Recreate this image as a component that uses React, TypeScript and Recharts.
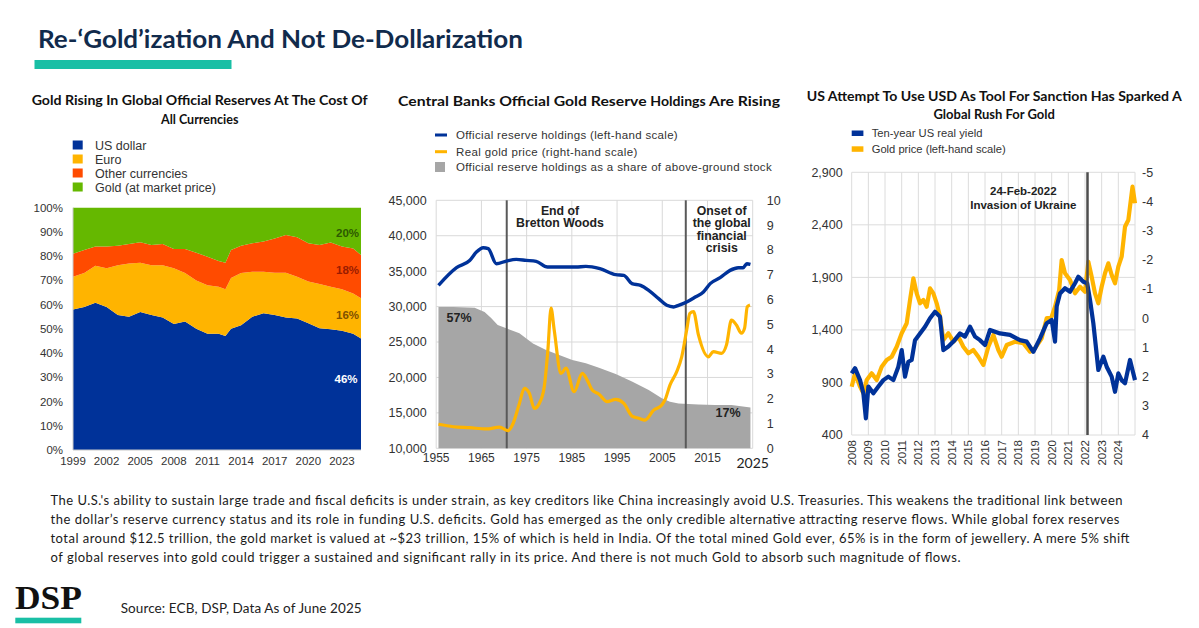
import React from "react";
import {
  AreaChart,
  Area,
  ComposedChart,
  Line,
  XAxis,
  YAxis,
  CartesianGrid,
  ReferenceLine,
} from "recharts";

// chart 1: currency shares of global official reserves (%)
const shareYears = [1999, 2000, 2001, 2002, 2003, 2004, 2005, 2006, 2007, 2008, 2009, 2010, 2011, 2012, 2012.6, 2013.1, 2014, 2015, 2016, 2017, 2018, 2019, 2020, 2021, 2022, 2023, 2024, 2024.7];
const usdShare = [58, 59, 60.8, 59, 55.7, 55, 57, 55.7, 54.7, 52, 53, 50, 48, 48, 47, 50, 51.5, 55, 56.4, 55.7, 54.7, 54.3, 52.3, 50.2, 49.8, 49.2, 48, 46];
const euroShare = [13.5, 14, 15.2, 16, 20.6, 22, 20.3, 20.6, 21.6, 23, 20, 20, 20, 19.4, 19.3, 21, 21.5, 18.6, 17.2, 17.5, 18.5, 17.2, 17.2, 18.3, 17.6, 17.1, 16.6, 16.6];
const otherShare = [9.5, 9.5, 8, 9, 8, 8, 8.4, 8.3, 8.7, 8, 10, 11.4, 11.8, 10.6, 11, 11.5, 11.3, 11.7, 12.4, 14.1, 15.5, 16.3, 15.8, 16.1, 18.2, 17.7, 18.6, 17.9];
const goldShare = [19, 17.5, 16, 16, 15.7, 15, 14.3, 15.4, 15, 17, 17, 18.6, 20.2, 22, 22.7, 17.5, 15.7, 14.7, 14, 12.7, 11.3, 12.2, 14.7, 15.4, 14.4, 16, 16.8, 19.5];
const shareTicks = [1999, 2002, 2005, 2008, 2011, 2014, 2017, 2020, 2023];
const pctTicks = [0, 10, 20, 30, 40, 50, 60, 70, 80, 90, 100];

// chart 2: central bank gold holdings (tonnes), real gold price, share of above-ground stock
const holdingYears = [1955.5, 1959.5, 1962.4, 1963.9, 1965.4, 1966.5, 1968.3, 1970.5, 1972.7, 1974.9, 1977.1, 1979.6, 1982.2, 1985.9, 1988.1, 1991.2, 1994.7, 1996.5, 1998.3, 2000.2, 2002, 2004.2, 2006, 2007.5, 2008.6, 2010.4, 2012.3, 2014.1, 2015.6, 2017.8, 2020, 2021.8, 2022.9, 2023.7, 2024.5];
const holdingTonnes = [33000, 35500, 36500, 37700, 38300, 38170, 36050, 36420, 36660, 36520, 36380, 35580, 35580, 35580, 35680, 35350, 34500, 34400, 33240, 33000, 32300, 31130, 30180, 29950, 30180, 30650, 31350, 32060, 33240, 34080, 35110, 35490, 35490, 36050, 35960];
const realGoldYears = [1955.5, 1958.8, 1962.4, 1966.1, 1969, 1970.9, 1972, 1973.4, 1974.5, 1975.6, 1976.7, 1977.8, 1978.9, 1979.7, 1980.4, 1981.1, 1982.6, 1983.7, 1985.5, 1987.3, 1988.4, 1989.5, 1991, 1992.8, 1994.7, 1996.5, 1998.3, 1999.8, 2001.2, 2003.1, 2004.9, 2005.6, 2006.7, 2008.2, 2009.3, 2010.4, 2011.1, 2011.9, 2013, 2015.2, 2016.3, 2018.1, 2019.2, 2020.3, 2021.4, 2022.5, 2023.2, 2023.8, 2024.4];
const realGoldPrice = [0.97, 0.87, 0.83, 0.78, 0.85, 0.71, 1.0, 1.81, 2.42, 2.22, 1.61, 1.81, 2.48, 3.96, 5.65, 4.77, 3.02, 3.23, 2.28, 3.02, 2.75, 2.35, 2.18, 1.88, 1.97, 1.81, 1.3, 1.21, 1.14, 1.54, 1.75, 1.95, 2.55, 3.09, 3.69, 4.77, 5.44, 5.51, 4.57, 3.69, 3.9, 3.83, 4.17, 5.17, 4.97, 4.64, 4.84, 5.71, 5.78];
const stockShareYears = [1955.5, 1958.8, 1963.5, 1965.7, 1967.2, 1968.6, 1970.5, 1973.4, 1976.4, 1979.3, 1982.2, 1985.1, 1988.1, 1991, 1994.7, 1998.3, 2002, 2004.9, 2006.7, 2008.6, 2013, 2016.7, 2020.3, 2024.5];
const stockSharePct = [57, 57, 56.7, 55, 52.4, 49.7, 48.4, 46.4, 42.3, 39.6, 37.6, 35.6, 34.3, 32.5, 30, 26.9, 23.5, 20.2, 18.8, 18.1, 17.7, 17.5, 17.5, 16.5];
const decadeTicks = [1955, 1965, 1975, 1985, 1995, 2005, 2015, 2025];
const tonnesTicks = [10000, 15000, 20000, 25000, 30000, 35000, 40000, 45000];
const realPriceTicks = [0, 1, 2, 3, 4, 5, 6, 7, 8, 9, 10];

// chart 3: gold price (USD/oz) and ten-year US real yield (%)
const goldSpotYears = [2008.0, 2008.2, 2008.5, 2008.7, 2008.9, 2009.2, 2009.5, 2009.8, 2010.1, 2010.4, 2010.7, 2011.0, 2011.3, 2011.5, 2011.7, 2011.9, 2012.1, 2012.3, 2012.5, 2012.7, 2012.9, 2013.1, 2013.3, 2013.5, 2013.8, 2014.1, 2014.4, 2014.7, 2015.0, 2015.3, 2015.6, 2015.9, 2016.2, 2016.5, 2016.8, 2017.0, 2017.3, 2017.8, 2018.3, 2018.7, 2019.0, 2019.4, 2019.7, 2020.0, 2020.2, 2020.45, 2020.6, 2020.8, 2021.1, 2021.4, 2021.7, 2022.0, 2022.2, 2022.4, 2022.6, 2022.8, 2023.0, 2023.2, 2023.4, 2023.6, 2023.8, 2024.0, 2024.2, 2024.4, 2024.6, 2024.75, 2024.85, 2025.0];
const goldSpotPrice = [860, 987, 860, 797, 923, 987, 923, 1050, 1114, 1145, 1240, 1368, 1463, 1685, 1891, 1748, 1653, 1685, 1621, 1796, 1748, 1653, 1526, 1304, 1368, 1288, 1335, 1240, 1177, 1209, 1145, 1066, 1240, 1352, 1209, 1145, 1256, 1288, 1273, 1193, 1225, 1320, 1511, 1526, 1621, 1780, 2065, 1939, 1875, 1748, 1811, 1764, 2049, 1906, 1748, 1653, 1811, 1939, 2034, 1923, 1844, 2002, 2097, 2382, 2446, 2636, 2763, 2605];
const realYieldYears = [2008.0, 2008.2, 2008.5, 2008.7, 2008.85, 2009.0, 2009.3, 2009.6, 2009.9, 2010.2, 2010.5, 2010.8, 2011.0, 2011.2, 2011.4, 2011.6, 2011.8, 2012.1, 2012.4, 2012.7, 2013.0, 2013.3, 2013.5, 2013.8, 2014.1, 2014.5, 2014.8, 2015.1, 2015.4, 2015.7, 2016.0, 2016.3, 2016.9, 2017.5, 2018.1, 2018.5, 2018.9, 2019.3, 2019.7, 2020.0, 2020.2, 2020.3, 2020.5, 2020.8, 2021.1, 2021.4, 2021.6, 2021.9, 2022.13, 2022.3, 2022.5, 2022.65, 2022.8, 2023.1, 2023.3, 2023.6, 2023.8, 2024.0, 2024.2, 2024.4, 2024.7, 2024.9, 2025.0];
const realYieldPct = [1.89, 1.71, 2.12, 2.57, 3.43, 2.34, 2.57, 2.34, 2.12, 2.0, 2.12, 1.66, 1.09, 2.0, 1.49, 1.43, 0.75, 0.52, 0.29, 0.0, -0.22, -0.05, 1.09, 0.97, 0.8, 0.52, 0.63, 0.29, 0.63, 0.75, 0.92, 0.4, 0.52, 0.57, 0.75, 0.8, 1.15, 0.69, 0.17, 0.06, 0.8, -0.4, -0.85, -1.03, -0.91, -1.2, -1.42, -1.25, -1.2, -0.63, 0.17, 0.97, 1.77, 1.32, 1.66, 2.0, 2.52, 1.89, 2.12, 2.23, 1.43, 1.89, 2.12];
const sanctionYearTicks = [2008, 2009, 2010, 2011, 2012, 2013, 2014, 2015, 2016, 2017, 2018, 2019, 2020, 2021, 2022, 2023, 2024];
const spotTicks = [400, 900, 1400, 1900, 2400, 2900];
const yieldTicks = [-5, -4, -3, -2, -1, 0, 1, 2, 3, 4];

const BLUE = "#003299";
const GOLD = "#ffb400";
const ORANGE = "#ff4b00";
const GREEN = "#65b800";
const GREY = "#a6a6a6";
const NAVY = "#112b4c";
const TEAL = "#19bfa5";
const ARIAL = "'Liberation Sans', Arial, sans-serif";
const CAL = "Lato, 'Open Sans', sans-serif";

const shareRows = shareYears.map((year, i) => ({
  year,
  usd: usdShare[i],
  euro: euroShare[i],
  other: otherShare[i],
  gold: goldShare[i],
}));
const holdingRows = holdingYears.map((year, i) => ({ year, tonnes: holdingTonnes[i] }));
const realGoldRows = realGoldYears.map((year, i) => ({ year, price: realGoldPrice[i] }));
const stockRows = stockShareYears.map((year, i) => ({ year, share: stockSharePct[i] }));
const spotRows = goldSpotYears.map((year, i) => ({ year, price: goldSpotPrice[i] }));
const yieldRows = realYieldYears.map((year, i) => ({ year, yld: realYieldPct[i] }));

const fmtThousands = (v: number) => v.toLocaleString("en-US");
const axisTick = (size: number) => ({ fontSize: size, fill: "#333", fontFamily: ARIAL });

const DecadeTick = (props: any) => {
  const { x, y, payload } = props;
  if (payload.value === 2025) {
    return (
      <text x={x} y={y + 15} textAnchor="middle" fontFamily={CAL} fontSize={14} fill="#222">
        {payload.value}
      </text>
    );
  }
  return (
    <text x={x} y={y} dy="0.71em" textAnchor="middle" fontFamily={ARIAL} fontSize={12} fill="#333">
      {payload.value}
    </text>
  );
};

const UprightYearTick = (props: any) => {
  const { x, y, payload } = props;
  return (
    <text
      x={x}
      y={y}
      dy="0.36em"
      transform={`rotate(-90 ${x} ${y})`}
      textAnchor="end"
      fontFamily={ARIAL}
      fontSize={11.5}
      fill="#333"
    >
      {payload.value}
    </text>
  );
};

const ReserveShareChart = () => (
  <div style={{ position: "absolute", left: 0, top: 200 }}>
    <AreaChart width={380} height={280} data={shareRows} margin={{ top: 7.7, right: 19, left: 0, bottom: 0 }}>
      <XAxis
        dataKey="year"
        type="number"
        domain={[1999, 2024.7]}
        ticks={shareTicks}
        interval={0}
        tickSize={0}
        tickMargin={6.5}
        tickLine={false}
        axisLine={{ stroke: "#c8c8c8" }}
        height={30}
        tick={axisTick(11.5)}
      />
      <YAxis
        type="number"
        domain={[0, 100]}
        ticks={pctTicks}
        interval={0}
        tickFormatter={(v) => `${v}%`}
        width={73}
        tickSize={0}
        tickMargin={10}
        tickLine={false}
        axisLine={{ stroke: "#c8c8c8" }}
        tick={axisTick(11.5)}
      />
      <Area dataKey="usd" stackId="s" type="linear" fill={BLUE} fillOpacity={1} stroke="none" isAnimationActive={false} />
      <Area dataKey="euro" stackId="s" type="linear" fill={GOLD} fillOpacity={1} stroke="none" isAnimationActive={false} />
      <Area dataKey="other" stackId="s" type="linear" fill={ORANGE} fillOpacity={1} stroke="none" isAnimationActive={false} />
      <Area dataKey="gold" stackId="s" type="linear" fill={GREEN} fillOpacity={1} stroke="none" isAnimationActive={false} />
    </AreaChart>
  </div>
);

const HoldingsChart = () => (
  <div style={{ position: "absolute", left: 380, top: 190 }}>
    <ComposedChart width={420} height={290} margin={{ top: 10.3, right: 17.3, left: 0, bottom: 1.7 }}>
      <CartesianGrid stroke="#d9d9d9" />
      <XAxis
        dataKey="year"
        type="number"
        domain={[1955, 2025]}
        ticks={decadeTicks}
        interval={0}
        tick={<DecadeTick />}
        tickSize={0}
        tickMargin={5}
        tickLine={false}
        axisLine={false}
        height={30}
      />
      <YAxis
        type="number"
        domain={[10000, 45000]}
        ticks={tonnesTicks}
        interval={0}
        tickFormatter={fmtThousands}
        width={56.2}
        tickSize={0}
        tickMargin={9.5}
        tickLine={false}
        axisLine={false}
        tick={axisTick(12.5)}
      />
      <YAxis
        yAxisId="price"
        orientation="right"
        type="number"
        domain={[0, 10]}
        ticks={realPriceTicks}
        interval={0}
        width={30}
        tickSize={0}
        tickMargin={14}
        tickLine={false}
        axisLine={false}
        tick={axisTick(12.5)}
      />
      <YAxis yAxisId="share" hide type="number" domain={[0, 100]} />
      <Area
        yAxisId="share"
        data={stockRows}
        dataKey="share"
        type="linear"
        fill={GREY}
        fillOpacity={1}
        stroke="none"
        isAnimationActive={false}
      />
      <ReferenceLine x={1970.6} stroke="#595959" strokeWidth={2} />
      <ReferenceLine x={2010.2} stroke="#595959" strokeWidth={2} />
      <Line
        data={holdingRows}
        dataKey="tonnes"
        type="monotone"
        stroke={BLUE}
        strokeWidth={3.4}
        dot={false}
        isAnimationActive={false}
      />
      <Line
        yAxisId="price"
        data={realGoldRows}
        dataKey="price"
        type="monotone"
        stroke={GOLD}
        strokeWidth={3.2}
        dot={false}
        isAnimationActive={false}
      />
    </ComposedChart>
  </div>
);

const SanctionChart = () => (
  <div style={{ position: "absolute", left: 795, top: 160 }}>
    <ComposedChart width={404} height={320} margin={{ top: 12.3, right: 34, left: 0, bottom: 5 }}>
      <CartesianGrid stroke="#dcdcdc" />
      <XAxis
        dataKey="year"
        type="number"
        domain={[2008, 2025]}
        ticks={sanctionYearTicks}
        interval={0}
        tick={<UprightYearTick />}
        tickSize={0}
        tickMargin={5}
        tickLine={false}
        axisLine={false}
        height={40}
      />
      <YAxis
        type="number"
        domain={[400, 2900]}
        ticks={spotTicks}
        interval={0}
        tickFormatter={fmtThousands}
        width={56.7}
        tickSize={0}
        tickMargin={9}
        tickLine={false}
        axisLine={false}
        tick={axisTick(12.5)}
      />
      <YAxis
        yAxisId="yield"
        orientation="right"
        type="number"
        reversed
        domain={[-5, 4]}
        ticks={yieldTicks}
        interval={0}
        width={30}
        tickSize={0}
        tickMargin={7}
        tickLine={false}
        axisLine={false}
        tick={axisTick(12.5)}
      />
      <Line
        data={spotRows}
        dataKey="price"
        type="linear"
        stroke={GOLD}
        strokeWidth={4.2}
        strokeLinejoin="round"
        dot={false}
        isAnimationActive={false}
      />
      <Line
        yAxisId="yield"
        data={yieldRows}
        dataKey="yld"
        type="linear"
        stroke={BLUE}
        strokeWidth={4.2}
        strokeLinejoin="round"
        dot={false}
        isAnimationActive={false}
      />
      <ReferenceLine x={2022.15} stroke="#4d4d4d" strokeWidth={2.5} />
    </ComposedChart>
  </div>
);

const bodyLines = [
  { text: "The U.S.'s ability to sustain large trade and fiscal deficits is under strain, as key creditors like China increasingly avoid U.S. Treasuries. This weakens the traditional link between", len: 1072 },
  { text: "the dollar\u2019s reserve currency status and its role in funding U.S. deficits. Gold has emerged as the only credible alternative attracting reserve flows. While global forex reserves", len: 1069 },
  { text: "total around $12.5 trillion, the gold market is valued at ~$23 trillion, 15% of which is held in India. Of the total mined Gold ever, 65% is in the form of jewellery. A mere 5% shift", len: 1079 },
  { text: "of global reserves into gold could trigger a sustained and significant rally in its price. And there is not much Gold to absorb such magnitude of flows.", len: 910 },
];

const Overlay = () => (
  <svg width={1199} height={628} style={{ position: "absolute", left: 0, top: 0, pointerEvents: "none" }}>
    {/* header */}
    <text x={38} y={47.5} fontFamily={CAL} fontWeight={700} fontSize={25} fill={NAVY} textLength={485} lengthAdjust="spacingAndGlyphs">
      Re-‘Gold’ization And Not De-Dollarization
    </text>
    <rect x={34.5} y={60} width={197} height={9} fill={TEAL} />

    {/* chart 1 title + legend + labels */}
    <text x={199.7} y={105} textAnchor="middle" fontFamily={CAL} fontWeight={700} fontSize={12.5} fill="#111" textLength={336} lengthAdjust="spacingAndGlyphs">
      Gold Rising In Global Official Reserves At The Cost Of
    </text>
    <text x={199.7} y={124} textAnchor="middle" fontFamily={CAL} fontWeight={700} fontSize={12.5} fill="#111">
      All Currencies
    </text>
    {[
      { label: "US dollar", color: BLUE, cy: 145 },
      { label: "Euro", color: GOLD, cy: 159 },
      { label: "Other currencies", color: ORANGE, cy: 173 },
      { label: "Gold (at market price)", color: GREEN, cy: 187 },
    ].map((d) => (
      <g key={d.label}>
        <rect x={72.7} y={d.cy - 4.5} width={10} height={9} fill={d.color} />
        <text x={95} y={d.cy + 4.5} fontFamily={ARIAL} fontSize={12.5} fill="#333">
          {d.label}
        </text>
      </g>
    ))}
    <text x={347.5} y={237} textAnchor="middle" fontFamily={ARIAL} fontWeight={700} fontSize={11.5} fill="#2d5a00">20%</text>
    <text x={347.5} y={274} textAnchor="middle" fontFamily={ARIAL} fontWeight={700} fontSize={11.5} fill="#9a1c00">18%</text>
    <text x={347.5} y={319} textAnchor="middle" fontFamily={ARIAL} fontWeight={700} fontSize={11.5} fill="#7f5000">16%</text>
    <text x={346} y={383} textAnchor="middle" fontFamily={ARIAL} fontWeight={700} fontSize={11.5} fill="#ffffff">46%</text>

    {/* chart 2 title + legend + labels */}
    <text x={589} y={105.5} textAnchor="middle" fontFamily={CAL} fontWeight={700} fontSize={14} fill="#111" textLength={382} lengthAdjust="spacingAndGlyphs">
      Central Banks Official Gold Reserve <tspan fontSize={12.5}>Holdings</tspan> Are Rising
    </text>
    <rect x={435} y={133.5} width={12} height={3} fill={BLUE} />
    <text x={456} y={139} fontFamily={ARIAL} fontSize={11.5} fill="#333" textLength={221.7}>
      Official reserve holdings (left-hand scale)
    </text>
    <rect x={435} y={150.2} width={12} height={3} fill={GOLD} />
    <text x={456} y={155.7} fontFamily={ARIAL} fontSize={11.5} fill="#333" textLength={181.3}>
      Real gold price (right-hand scale)
    </text>
    <rect x={435} y={162} width={10} height={10} fill={GREY} />
    <text x={456} y={170.7} fontFamily={ARIAL} fontSize={11.5} fill="#333" textLength={315.7}>
      Official reserve holdings as a share of above-ground stock
    </text>
    <text x={560} y={215} textAnchor="middle" fontFamily={ARIAL} fontWeight={700} fontSize={12.3} fill="#222">End of</text>
    <text x={560} y={227.3} textAnchor="middle" fontFamily={ARIAL} fontWeight={700} fontSize={12.3} fill="#222">Bretton Woods</text>
    {["Onset of", "the global", "financial", "crisis"].map((t, i) => (
      <text key={t} x={721.7} y={215 + i * 12.3} textAnchor="middle" fontFamily={ARIAL} fontWeight={700} fontSize={12.3} fill="#222">
        {t}
      </text>
    ))}
    <text x={459} y={321.5} textAnchor="middle" fontFamily={ARIAL} fontWeight={700} fontSize={12.5} fill="#222">57%</text>
    <text x={728} y={417} textAnchor="middle" fontFamily={ARIAL} fontWeight={700} fontSize={12.5} fill="#222">17%</text>

    {/* chart 3 title + legend + labels */}
    <text x={994.2} y={101} textAnchor="middle" fontFamily={CAL} fontWeight={700} fontSize={13} fill="#111" textLength={375} lengthAdjust="spacingAndGlyphs">
      US Attempt To Use USD As Tool For Sanction Has Sparked A
    </text>
    <text x={994.2} y={119} textAnchor="middle" fontFamily={CAL} fontWeight={700} fontSize={13} fill="#111">
      Global Rush For Gold
    </text>
    <rect x={851.7} y={130.5} width={11.7} height={5.5} fill={BLUE} />
    <text x={871.7} y={137.3} fontFamily={ARIAL} fontSize={11.2} fill="#333" textLength={110.7}>
      Ten-year US real yield
    </text>
    <rect x={851.7} y={146.3} width={11.7} height={5.5} fill={GOLD} />
    <text x={871.7} y={153} fontFamily={ARIAL} fontSize={11.2} fill="#333" textLength={134}>
      Gold price (left-hand scale)
    </text>
    <text x={1023.3} y={195} textAnchor="middle" fontFamily={ARIAL} fontWeight={700} fontSize={11.5} fill="#222">24-Feb-2022</text>
    <text x={1023.3} y={208.5} textAnchor="middle" fontFamily={ARIAL} fontWeight={700} fontSize={11.5} fill="#222">Invasion of Ukraine</text>

    {/* commentary */}
    {bodyLines.map((l, i) => (
      <text key={i} x={50.5} y={504.5 + i * 19} fontFamily={CAL} fontSize={13} fill="#1a1a1a" textLength={l.len} lengthAdjust="spacing">
        {l.text}
      </text>
    ))}

    {/* footer */}
    <text x={15} y={608.5} fontFamily="'Liberation Serif', serif" fontWeight={700} fontSize={33} fill="#111" textLength={67} lengthAdjust="spacingAndGlyphs">
      DSP
    </text>
    <rect x={15.3} y={617.7} width={66} height={5.6} fill={TEAL} />
    <text x={120.7} y={612.5} fontFamily={CAL} fontSize={13.5} fill="#222" textLength={241} lengthAdjust="spacing">
      Source: ECB, DSP, Data As of June 2025
    </text>
  </svg>
);

export default function App() {
  return (
    <div style={{ position: "absolute", left: 0, top: 0, width: 1199, height: 628, background: "#fff", overflow: "hidden" }}>
      <ReserveShareChart />
      <HoldingsChart />
      <SanctionChart />
      <Overlay />
    </div>
  );
}
